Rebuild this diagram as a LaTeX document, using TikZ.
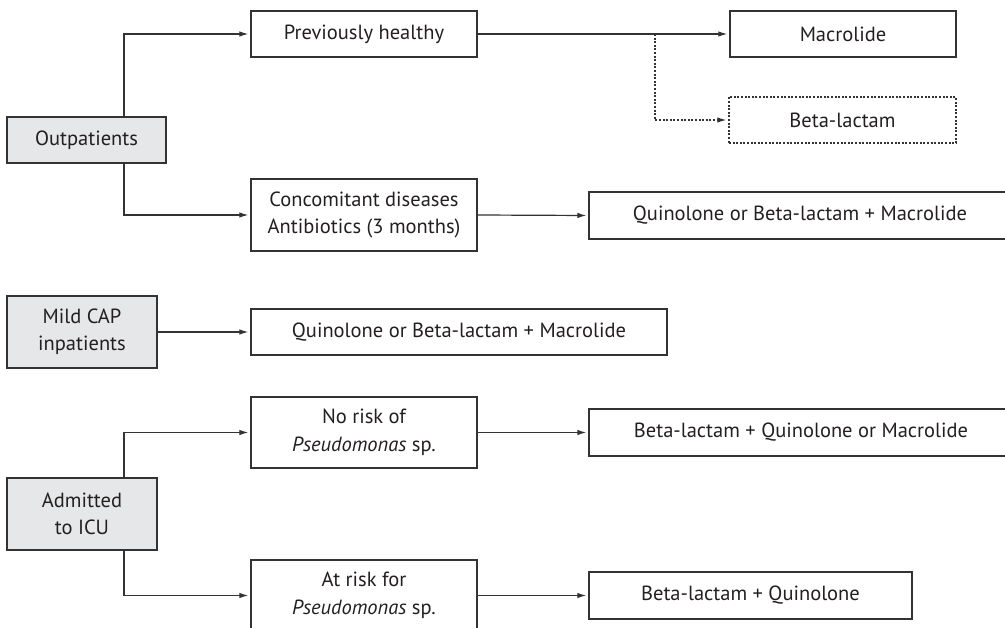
\documentclass[tikz,border=0pt]{standalone}
\usepackage{fontspec}
\setmainfont{PT Sans}
\usetikzlibrary{arrows.meta}
\definecolor{linec}{HTML}{333333}
\definecolor{textc}{HTML}{231F20}
\definecolor{grayfill}{HTML}{E6E7E8}
\tikzset{
  box/.style={draw=linec, line width=1.3pt, rectangle, inner sep=0pt, align=center, text=textc,
    font=\fontsize{20.5}{27.5}\selectfont},
  graybox/.style={box, fill=grayfill},
  dotbox/.style={box, dash pattern=on 2pt off 1.6pt},
  arr/.style={draw=linec, line width=1.2pt, -{Latex[length=9pt,width=5.5pt]}, shorten >=2pt},
  dotarr/.style={arr, dash pattern=on 2pt off 1.6pt},
}
\begin{document}
\begin{tikzpicture}[x=1pt, y=-1pt]
\useasboundingbox (0,0) rectangle (1005,628);
\clip (0,0) rectangle (1005,628);
% left categories
\node[graybox, minimum width=159pt, minimum height=46pt] (out) at (86.5,140) {Outpatients};
\node[graybox, minimum width=150pt, minimum height=72pt] (mild) at (82,332) {Mild CAP\\inpatients};
\node[graybox, minimum width=150pt, minimum height=72pt] (adm) at (82,514) {Admitted\\to ICU};
% middle column
\node[box, minimum width=226pt, minimum height=46pt] (ph) at (364,34) {Previously healthy};
\node[box, minimum width=226pt, minimum height=72pt] (cc) at (364,215) {Concomitant diseases\\Antibiotics (3 months)};
\node[box, minimum width=416pt, minimum height=46pt] (q2) at (459,332) {Quinolone or Beta-lactam + Macrolide};
\node[box, minimum width=226pt, minimum height=71pt] (nr) at (364,432.5) {No risk of\\\textit{Pseudomonas} sp.};
\node[box, minimum width=226pt, minimum height=71pt] (ar) at (364,595.5) {At risk for\\\textit{Pseudomonas} sp.};
% right column
\node[box, minimum width=226pt, minimum height=46pt] (mac) at (843,34) {Macrolide};
\node[dotbox, minimum width=227pt, minimum height=46pt] (bl) at (842.5,120) {Beta-lactam};
\node[box, minimum width=422pt, minimum height=47pt] (q1) at (800,215.5) {Quinolone or Beta-lactam + Macrolide};
\node[box, minimum width=424pt, minimum height=47pt] (bqm) at (801,432.5) {Beta-lactam + Quinolone or Macrolide};
\node[box, minimum width=323pt, minimum height=47pt] (bq) at (750.5,595.5) {Beta-lactam + Quinolone};
% connectors
\draw[arr] ([xshift=37.5pt]out.north) |- (ph.west);
\draw[arr] ([xshift=37.5pt]out.south) |- (cc.west);
\draw[arr] (ph.east) -- (mac.west);
\coordinate (j) at (655,34);
\draw[dotarr] (j) |- (bl.west);
\draw[arr] (cc.east) -- (q1.west);
\draw[arr] (mild.east) -- (q2.west);
\draw[arr] ([xshift=42pt]adm.north) |- (nr.west);
\draw[arr] ([xshift=42pt]adm.south) |- (ar.west);
\draw[arr] (nr.east) -- (bqm.west);
\draw[arr] (ar.east) -- (bq.west);
\end{tikzpicture}
\end{document}
